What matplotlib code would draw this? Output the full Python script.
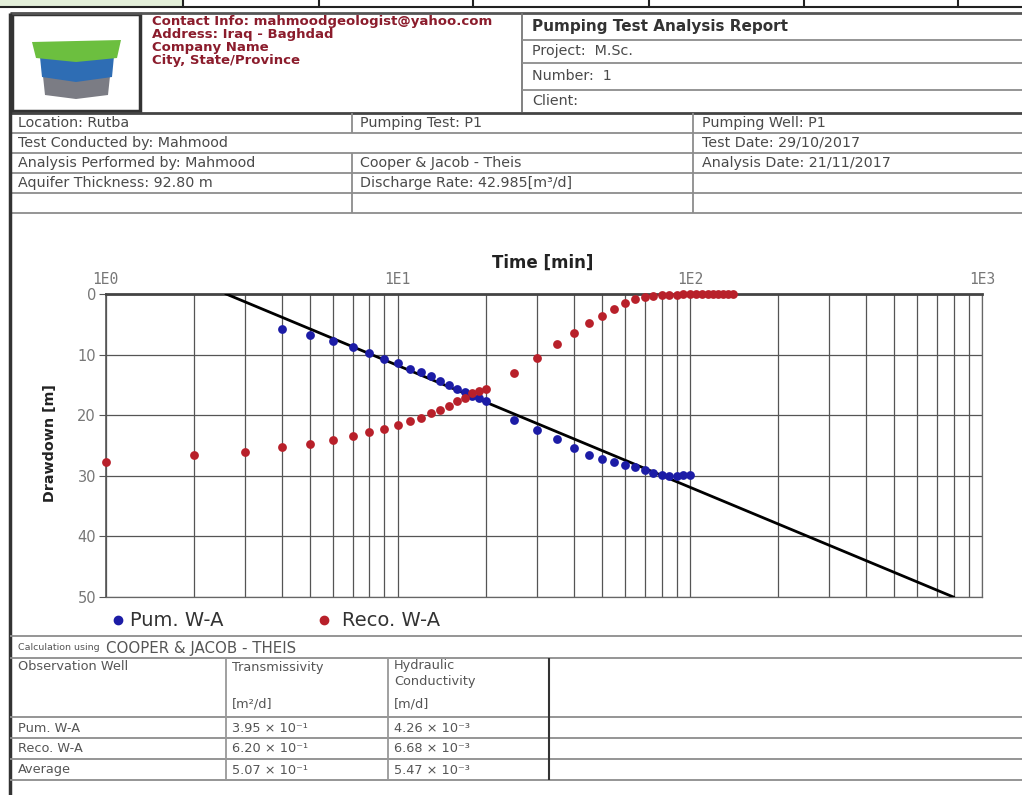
import matplotlib
matplotlib.use("Agg")
import matplotlib.pyplot as plt
from matplotlib.patches import Polygon, Rectangle

plt.rcParams['font.family'] = ['DejaVu Sans']

# pumping phase (Pum. W-A): time [min], drawdown [m]
t_pum = [4, 5, 6, 7, 8, 9, 10, 11, 12, 13, 14, 15, 16, 17, 18, 19, 20,
         25, 30, 35, 40, 45, 50, 55, 60, 65, 70, 75, 80, 85, 90, 95, 100]
s_pum = [5.8, 6.8, 7.8, 8.8, 9.7, 10.7, 11.4, 12.3, 12.9, 13.6, 14.3, 15.0, 15.6, 16.2, 16.8, 17.2, 17.6,
         20.8, 22.4, 24.0, 25.4, 26.5, 27.3, 27.8, 28.2, 28.6, 29.0, 29.5, 29.9, 30.1, 30.0, 29.9, 29.8]

# recovery phase (Reco. W-A)
t_reco = [1, 2, 3, 4, 5, 6, 7, 8, 9, 10, 11, 12, 13, 14, 15, 16, 17, 18, 19, 20,
          25, 30, 35, 40, 45, 50, 55, 60, 65, 70, 75, 80, 85, 90, 95, 100,
          105, 110, 115, 120, 125, 130, 135, 140]
s_reco = [27.8, 26.6, 26.0, 25.3, 24.7, 24.1, 23.4, 22.8, 22.2, 21.6, 21.0, 20.4, 19.7, 19.1, 18.4, 17.7, 17.1, 16.4, 16.0, 15.6,
          13.1, 10.5, 8.3, 6.4, 4.8, 3.7, 2.4, 1.5, 0.9, 0.55, 0.35, 0.22, 0.15, 0.1, 0.08,
          0.06, 0.05, 0.05, 0.04, 0.03, 0.03, 0.02, 0.02, 0.02]

# Cooper & Jacob straight line
t_fit = [2.585, 798]
s_fit = [0, 50]

x_ticks = [1, 10, 100, 1000]
x_tick_labels = ["1E0", "1E1", "1E2", "1E3"]
y_ticks = [0, 10, 20, 30, 40, 50]

contact = ["Contact Info: mahmoodgeologist@yahoo.com", "Address: Iraq - Baghdad",
           "Company Name", "City, State/Province"]
header_right = ["Project:  M.Sc.", "Number:  1", "Client:"]

info_col1 = ["Location: Rutba", "Test Conducted by: Mahmood", "Analysis Performed by: Mahmood",
             "Aquifer Thickness: 92.80 m", ""]
info_col2 = ["Pumping Test: P1", "", "Cooper & Jacob - Theis", "Discharge Rate: 42.985[m\u00b3/d]", ""]
info_col3 = ["Pumping Well: P1", "Test Date: 29/10/2017", "Analysis Date: 21/11/2017", "", ""]

wells = ["Pum. W-A", "Reco. W-A", "Average"]
transmissivity = ["3.95 \u00d7 10\u207b\u00b9", "6.20 \u00d7 10\u207b\u00b9", "5.07 \u00d7 10\u207b\u00b9"]
conductivity = ["4.26 \u00d7 10\u207b\u00b3", "6.68 \u00d7 10\u207b\u00b3", "5.47 \u00d7 10\u207b\u00b3"]

W, H = 1022, 795
fig = plt.figure(figsize=(W / 100, H / 100), dpi=100)
fig.patch.set_facecolor('white')
bg = fig.add_axes([0, 0, 1, 1])
bg.set_xlim(0, W)
bg.set_ylim(H, 0)
bg.axis('off')


def hline(y, x0=10, x1=W, c='#8c8c8c', lw=1.3):
    bg.plot([x0, x1], [y, y], color=c, lw=lw, solid_capstyle='butt')


def vline(x, y0, y1, c='#8c8c8c', lw=1.3):
    bg.plot([x, x], [y0, y1], color=c, lw=lw, solid_capstyle='butt')


txt = dict(color='#4a4a4a', fontsize=10.3, va='center', ha='left')
tbl = dict(color='#555', fontsize=9.3, va='center', ha='left')

# cut-off row at the very top
bg.add_patch(Rectangle((0, 0), 183, 7, color='#e3efd9', lw=0))
hline(7, 0, W, c='#222', lw=1.5)
for x in [183, 319, 473, 649, 804, 958]:
    vline(x, 0, 7, c='#222', lw=1.5)

# header block
hline(13, 10, W, c='#555', lw=2)
hline(112.5, 10, W, c='#444', lw=2)
bg.add_patch(Rectangle((11.5, 14), 128.5, 97, fill=False, ec='#333', lw=2.5))
vline(522, 13, 112, c='#777')
for y in [39.5, 63, 89.5]:
    hline(y, 522, W)

# logo
bg.add_patch(Polygon([(43, 76), (110, 76), (108, 95), (76, 99), (45, 95)], color='#7b7c84', lw=0))
bg.add_patch(Polygon([(40, 57), (114, 56), (112, 77), (76, 82), (42, 77)], color='#2e6db4', lw=0))
bg.add_patch(Polygon([(32, 42), (121, 40), (117, 58), (76, 62), (36, 58)], color='#6cbf3f', lw=0))

for i, line in enumerate(contact):
    bg.text(152, 22 + i * 12.7, line, color='#8b1c2c', fontsize=9.5, fontweight='bold', va='center')
bg.text(532, 26, "Pumping Test Analysis Report", color='#333', fontsize=11,
        fontweight='bold', va='center')
for i, line in enumerate(header_right):
    bg.text(532, 51 + i * 25, line, **txt)

# info table
for y in [133, 153, 173, 193, 213]:
    hline(y)
vline(352, 113, 133)
vline(352, 153, 213)
vline(693, 113, 213)
for i in range(5):
    yc = 123 + i * 20
    bg.text(18, yc, info_col1[i], **txt)
    bg.text(360, yc, info_col2[i], **txt)
    bg.text(702, yc, info_col3[i], **txt)

# left border of the page
vline(10, 13, H, c='#333', lw=2.5)

# chart
ax = fig.add_axes([105.7 / W, 1 - 597 / H, (982 - 105.7) / W, (597 - 294) / H])
ax.set_xscale('log')
ax.set_xlim(1, 1000)
ax.set_ylim(50, 0)
ax.plot(t_fit, s_fit, color='black', lw=2, zorder=3)
ax.scatter(t_pum, s_pum, s=40, color='#1c1ca6', zorder=4, clip_on=False, lw=0)
ax.scatter(t_reco, s_reco, s=40, color='#b8202a', zorder=4, clip_on=False, lw=0)
ax.grid(which='both', axis='x', color='#555', lw=0.9)
ax.grid(which='major', axis='y', color='#555', lw=0.9)
ax.set_axisbelow(True)
ax.xaxis.tick_top()
ax.set_xticks(x_ticks)
ax.set_xticklabels(x_tick_labels, fontfamily='DejaVu Sans Mono', color='#777', fontsize=10.5)
ax.tick_params(axis='x', which='both', length=0, pad=5)
ax.set_yticks(y_ticks)
ax.set_yticklabels([str(v) for v in y_ticks], color='#777', fontsize=10.5)
ax.tick_params(axis='y', length=5, color='#555', pad=2)
ax.spines['top'].set_color('#444')
ax.spines['top'].set_linewidth(2)
ax.spines['left'].set_color('#555')
ax.spines['left'].set_linewidth(1.2)
for sp in ['right', 'bottom']:
    ax.spines[sp].set_color('#666')
    ax.spines[sp].set_linewidth(0.9)

bg.text(543, 263, "Time [min]", fontweight='bold', fontsize=12,
        color='#222', ha='center', va='center')
bg.text(50, 443, "Drawdown [m]", fontweight='bold', fontsize=10.3,
        color='#222', ha='center', va='center', rotation=90)

# legend
bg.plot([118], [620], 'o', color='#1c1ca6', ms=6)
bg.text(130, 620, "Pum. W-A", fontsize=14, color='#333', va='center')
bg.plot([324], [620], 'o', color='#b8202a', ms=6)
bg.text(342, 620, "Reco. W-A", fontsize=14, color='#333', va='center')

# results table
hline(636)
for y in [658, 717, 738, 759, 780]:
    hline(y)
vline(226, 658, 780, c='#999')
vline(388, 658, 780, c='#999')
vline(549, 658, 780, c='#333', lw=1.5)
bg.text(18, 648, "Calculation using", color='#555', fontsize=6.8, va='center')
bg.text(106, 648, "COOPER & JACOB - THEIS", color='#555', fontsize=10.8, va='center')
bg.text(18, 667, "Observation Well", **tbl)
bg.text(232, 667, "Transmissivity", **tbl)
bg.text(232, 704, "[m\u00b2/d]", **tbl)
bg.text(394, 665, "Hydraulic", **tbl)
bg.text(394, 681, "Conductivity", **tbl)
bg.text(394, 704, "[m/d]", **tbl)
for i in range(3):
    yc = 728 + i * 21
    bg.text(18, yc, wells[i], **tbl)
    bg.text(232, yc, transmissivity[i], **tbl)
    bg.text(394, yc, conductivity[i], **tbl)

fig.savefig("out.png", dpi=100)
